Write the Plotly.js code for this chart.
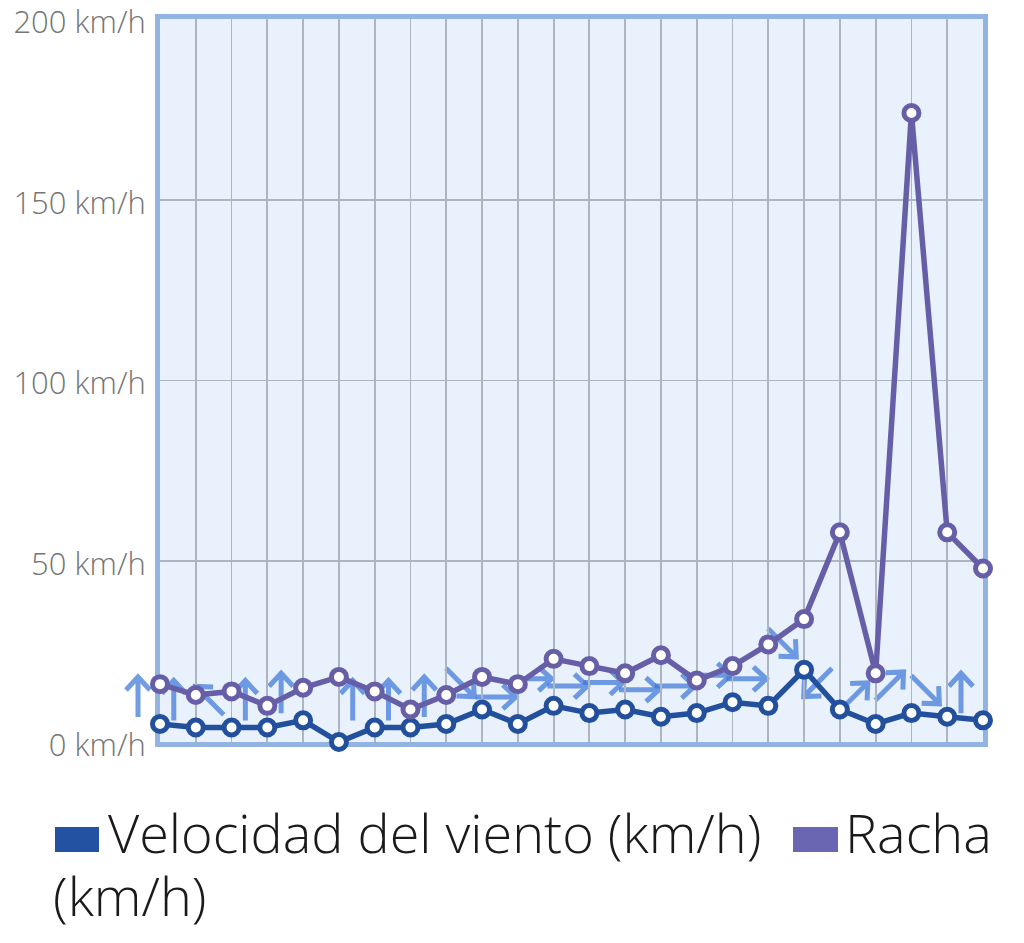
<!DOCTYPE html>
<html><head><meta charset="utf-8">
<script src="https://cdn.plot.ly/plotly-3.0.1.min.js"></script>
<style>html,body{margin:0;padding:0;background:#fff;} #chart{width:1024px;height:943px;}
.shapelayer path{filter:blur(0.7px);}
</style>
</head><body><div id="chart"></div>
<script>
// Data
const velocidad = [5,4,4,4,6,0,4,4,5,9,5,10,8,9,7,8,11,10,20,9,5,8,7,6];
const racha     = [16,13,14,10,15,18,14,9,13,18,16,23,21,19,24,17,21,27,34,58,19,174,58,48];
// wind direction the arrow points to (degrees clockwise from north), null = calm
const direccion = [0,0,315,0,0,null,0,0,0,135,90,90,90,90,90,90,90,90,135,225,45,45,135,0];
const yTicks = [0,50,100,150,200];
const tickSuffix = ' km/h';
const legendNames = ['Velocidad del viento (km/h)', 'Racha', '(km/h)'];
const slots = velocidad.map((_, i) => i);

const cVel = '#23509c', cRacha = '#675ea8';

const traces = [
  {x: slots, y: velocidad, type:'scatter', mode:'lines+markers', name: legendNames[0],
   line:{color:cVel, width:5.5}, cliponaxis:false,
   marker:{symbol:'circle', size:15, color:'#ffffff', line:{color:cVel, width:5}}},
  {x: slots, y: racha, type:'scatter', mode:'lines+markers', name: legendNames[1]+' '+legendNames[2],
   line:{color:cRacha, width:5.5}, cliponaxis:false,
   marker:{symbol:'circle', size:15, color:'#ffffff', line:{color:cRacha, width:5}}}
];

function arrowPath(deg){
  const r = deg*Math.PI/180, ux = Math.sin(r), uy = Math.cos(r);
  const cx = -22, cy = 27, L = 20, h = 13, w = 12;
  const tipx = cx+L*ux, tipy = cy+L*uy, tailx = cx-L*ux, taily = cy-L*uy;
  const px = uy, py = -ux;
  const bx = tipx-h*ux, by = tipy-h*uy;
  const f = v => v.toFixed(2);
  return `M${f(tailx)},${f(taily)} L${f(tipx)},${f(tipy)} M${f(bx+w*px)},${f(by+w*py)} L${f(tipx)},${f(tipy)} L${f(bx-w*px)},${f(by-w*py)}`;
}

const shapes = [];
const nSlots = slots.length - 1;
direccion.forEach((d, i) => {
  if (d === null) return;
  shapes.push({type:'path', layer:'below', xref:'paper', yref:'y',
    xsizemode:'pixel', ysizemode:'pixel', xanchor: slots[i]/nSlots, yanchor: velocidad[i],
    path: arrowPath(d), line:{color:'rgba(55,115,215,0.7)', width:5}});
});

// legend boxes
const px = p => (p-160)/823, py = p => (742-p)/723;
shapes.push({type:'rect', xref:'paper', yref:'paper', x0:px(55), x1:px(99), y0:py(852), y1:py(827),
  fillcolor:'#2452a2', line:{width:0}});
shapes.push({type:'rect', xref:'paper', yref:'paper', x0:px(793), x1:px(838), y0:py(852), y1:py(827),
  fillcolor:'#6b66b1', line:{width:0}});

const legFont = {family:'Open Sans, sans-serif', size:54, color:'#1a1a1a', weight:300};
const annotations = [
  {xref:'paper', yref:'paper', x:px(106), y:py(832), xanchor:'left', yanchor:'middle', showarrow:false, text:legendNames[0], font:legFont},
  {xref:'paper', yref:'paper', x:px(843), y:py(832), xanchor:'left', yanchor:'middle', showarrow:false, text:legendNames[1], font:legFont},
  {xref:'paper', yref:'paper', x:px(51), y:py(895), xanchor:'left', yanchor:'middle', showarrow:false, text:legendNames[2], font:legFont}
];

const layout = {
  width:1024, height:943,
  margin:{l:160, r:41, t:19, b:201},
  paper_bgcolor:'#ffffff', plot_bgcolor:'#e9f1fc',
  showlegend:false,
  xaxis:{range:[0, nSlots], dtick:1, tick0:0, showgrid:true, gridcolor:'#adb5c2', gridwidth:1.8,
    showticklabels:false, zeroline:false, showline:true, mirror:true, linecolor:'#93b3e0', linewidth:5,
    layer:'below traces', fixedrange:true},
  yaxis:{range:[0,200], tickvals:yTicks, ticktext:yTicks.map(v => v+tickSuffix), showgrid:true,
    gridcolor:'#adb5c2', gridwidth:1.8, zeroline:false, showline:true, mirror:true, linecolor:'#93b3e0',
    linewidth:5, ticks:'outside', ticklen:3, tickcolor:'rgba(0,0,0,0)', ticklabeloverflow:'allow',
    ticklabelshift:3,
    tickfont:{family:'Open Sans, sans-serif', size:31, color:'#757575', weight:300}, layer:'below traces', fixedrange:true},
  shapes: shapes,
  annotations: annotations
};

Plotly.newPlot('chart', traces, layout, {displayModeBar:false, staticPlot:true});
</script>
</body></html>
